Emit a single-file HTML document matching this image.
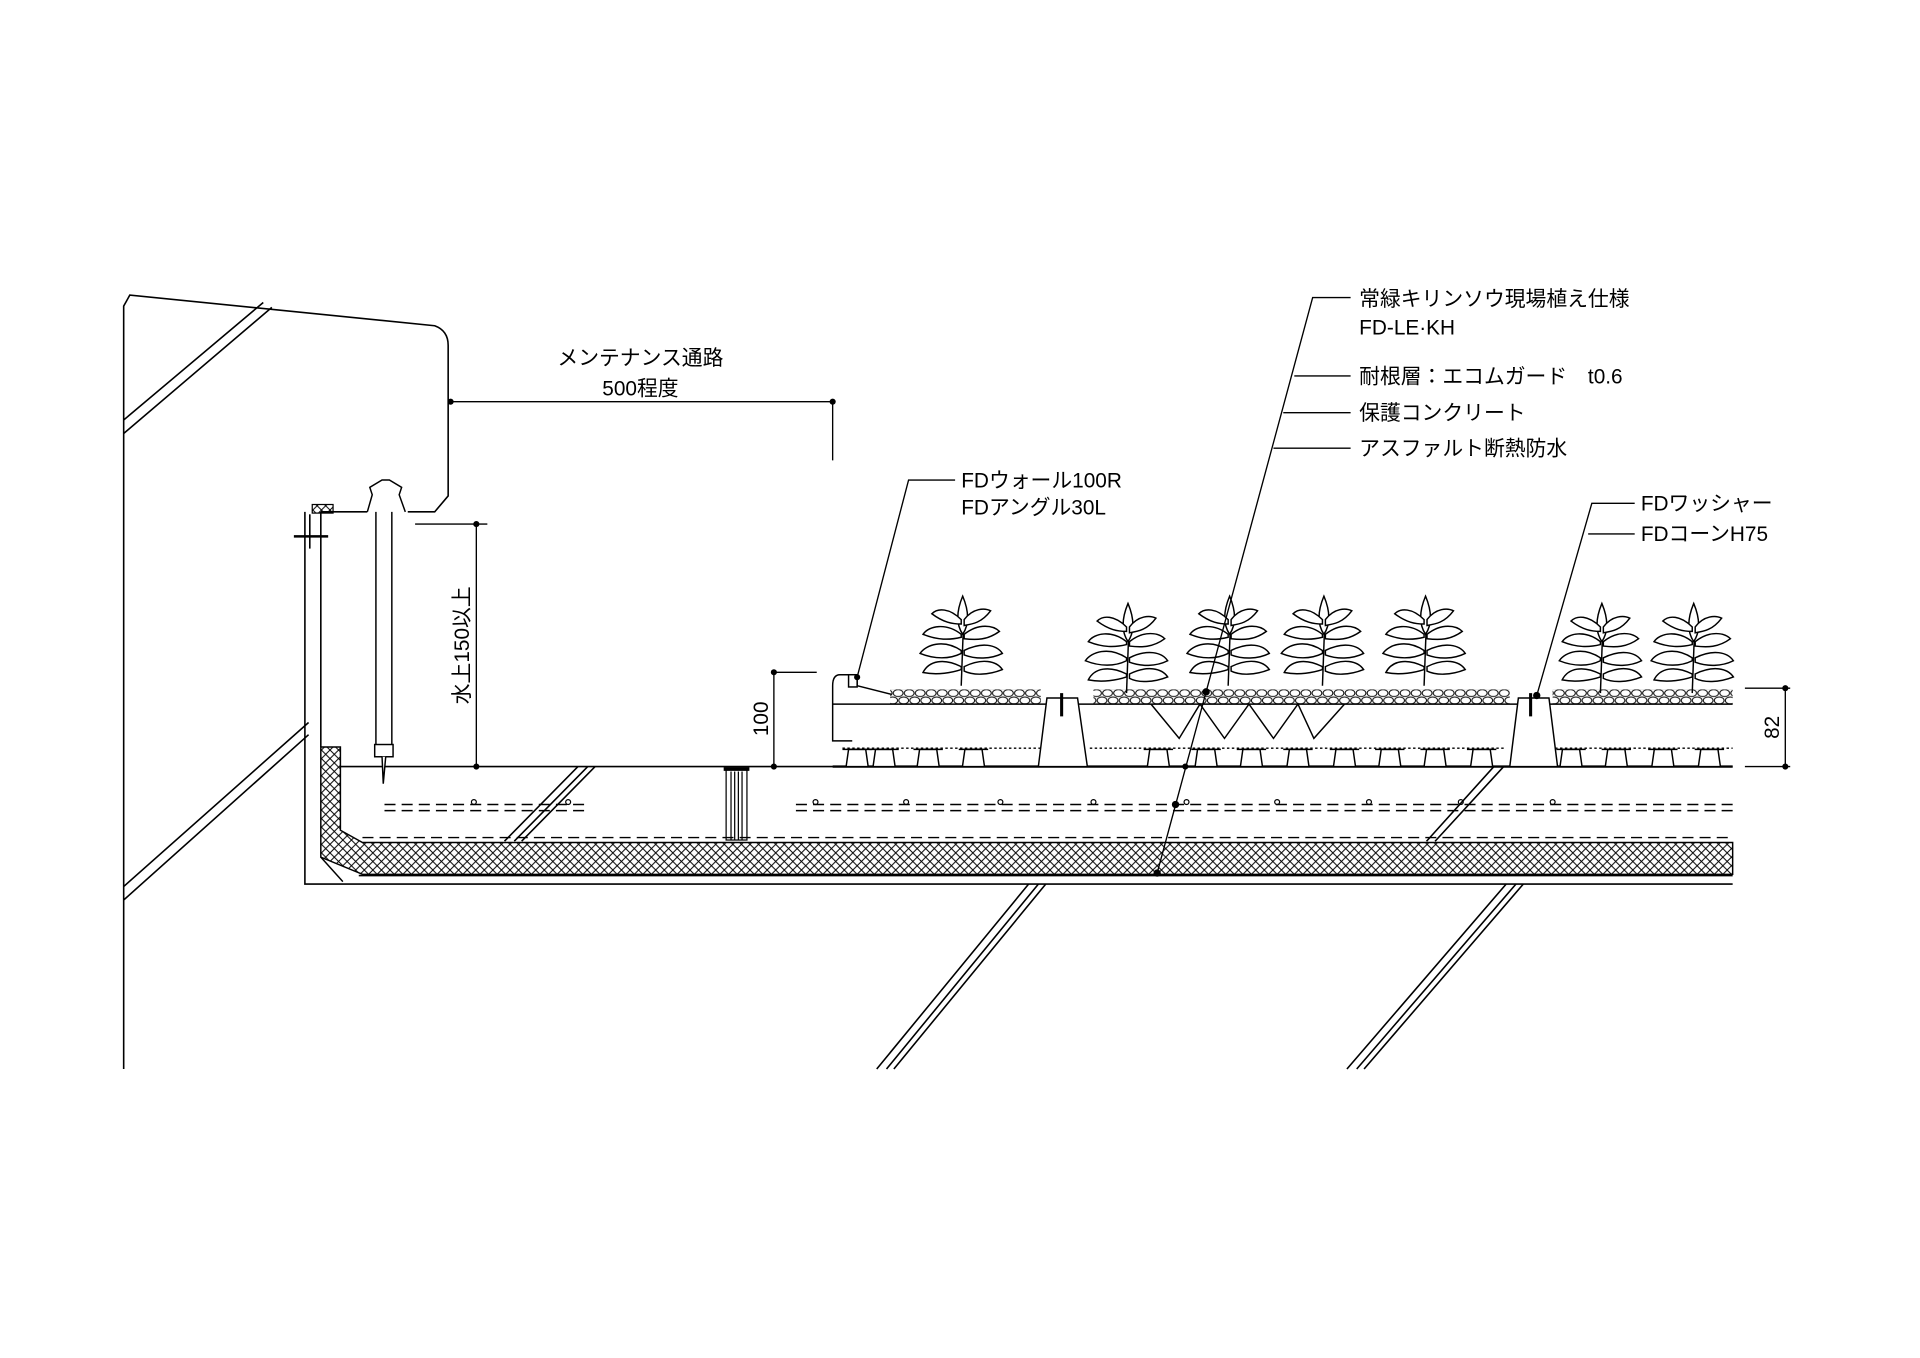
<!DOCTYPE html>
<html><head><meta charset="utf-8"><style>
html,body{margin:0;padding:0;background:#fff;}
svg{display:block}
text{font-family:"Liberation Sans","Noto Sans CJK JP",sans-serif;fill:#000;}
</style></head><body>
<svg width="1920" height="1358" viewBox="0 0 1568 1109" xmlns="http://www.w3.org/2000/svg">
<defs>
<pattern id="xh" width="7" height="7" patternUnits="userSpaceOnUse">
<path d="M0,0L7,7M7,0L0,7" stroke="#000" stroke-width="0.8"/>
</pattern>
<pattern id="gv" x="0" y="563" width="9" height="12" patternUnits="userSpaceOnUse">
<ellipse cx="4.5" cy="3" rx="4" ry="2.8" fill="#fff" stroke="#000" stroke-width="0.8"/>
<ellipse cx="0" cy="9" rx="4" ry="2.8" fill="#fff" stroke="#000" stroke-width="0.8"/>
<ellipse cx="9" cy="9" rx="4" ry="2.8" fill="#fff" stroke="#000" stroke-width="0.8"/>
</pattern>
<g id="plant" fill="#fff" stroke="#000" stroke-width="1" transform="scale(1.2)">
<path d="M0,55 L2,0" />
<path d="M1,-6 C-4,6 -3,14 1,20 C5,14 6,6 1,-6Z"/>
<path d="M0,10 C-8,2 -16,2 -20,6 C-12,12 -6,13 0,13Z"/>
<path d="M2,10 C8,2 16,2 20,4 C14,12 8,13 2,14Z"/>
<path d="M0,20 C-10,12 -22,14 -26,20 C-16,24 -8,24 0,22Z"/>
<path d="M2,20 C12,12 22,14 26,18 C18,24 10,24 2,23Z"/>
<path d="M0,31 C-12,23 -24,27 -28,33 C-18,37 -8,37 0,33Z"/>
<path d="M2,31 C14,25 24,27 28,33 C20,37 10,37 2,34Z"/>
<path d="M0,42 C-12,36 -22,38 -26,46 C-16,48 -6,46 0,44Z"/>
<path d="M2,42 C14,36 24,38 28,44 C18,48 8,48 2,45Z"/>
</g>
<g id="cone" fill="#fff" stroke="#000" stroke-width="1.2">
<path d="M-9,626 L-7,612 L7,612 L9,626Z"/>
<path d="M-12,612 L12,612" />
</g>
</defs>
<rect width="1568" height="1109" fill="#fff"/>
<g fill="none" stroke="#000" stroke-width="1.3">
<path d="M101,873 L101,250 L106,241 L355,266 Q366,270 366,282 L366,405 L355,418 L333,418"/>
<path d="M300,418 L262,418"/>
<path d="M101,343 L215,247 M101,354 L222,251 M101,724 L252,590 M101,735 L252,600"/>
<path d="M716,873 L840,722 M724,873 L848,722 M730,873 L854,722"/>
<path d="M1100,873 L1230,722 M1108,873 L1238,722 M1114,873 L1244,722"/>
<path d="M412,687 L472,626 M420,687 L480,626 M426,687 L486,626"/>
<path d="M1165,687 L1220,626 M1172,687 L1228,626"/>
<path d="M249,418 L249,722 L1415,722"/>
<path d="M262,418 L262,610"/>
<path d="M278,626 L1415,626"/>
<path d="M293,715 L1415,715"/>
<path d="M253,420 L253,448"/>
</g>
<rect x="255" y="412" width="17" height="7" fill="url(#xh)" stroke="#000"/>
<path d="M240,438 L268,438" stroke="#000" stroke-width="2"/>
<path d="M262,610 L278,610 L278,678 L296,688 L1415,688 L1415,714 L296,714 L262,700 Z" fill="url(#xh)" stroke="#000" stroke-width="1.2"/>
<path d="M262,700 L280,720" stroke="#000" stroke-width="1.2"/>
<g stroke="#000" stroke-width="1.2" fill="none" stroke-dasharray="9,5">
<path d="M314,657 L478,657 M314,662 L478,662"/>
<path d="M650,657 L1415,657 M650,662 L1415,662"/>
<path d="M296,684 L1415,684"/>
</g>
<g fill="none" stroke="#000" stroke-width="1">
<circle cx="387" cy="655" r="2"/><circle cx="464" cy="655" r="2"/>
<circle cx="666" cy="655" r="2"/><circle cx="740" cy="655" r="2"/><circle cx="817" cy="655" r="2"/>
<circle cx="893" cy="655" r="2"/><circle cx="969" cy="655" r="2"/><circle cx="1043" cy="655" r="2"/>
<circle cx="1118" cy="655" r="2"/><circle cx="1193" cy="655" r="2"/><circle cx="1268" cy="655" r="2"/>
</g>
<g stroke="#000" stroke-width="1" fill="none">
<rect x="593" y="628" width="17" height="58"/>
<path d="M597,630V686M600,630V686M603,630V686M606,630V686"/>
<path d="M591,628h21" stroke-width="3"/>
</g>
<g stroke="#000" stroke-width="1.2" fill="#fff">
<rect x="307" y="405" width="13" height="210"/>
<path d="M300,418 L304,404 L302,398 L312,392 L318,392 L328,398 L326,404 L331,418"/>
<rect x="306" y="608" width="15" height="10"/>
<path d="M312,618 L313,640 L315,618"/>
</g>
<g stroke="#000" stroke-width="1.1" fill="none">
<path d="M368,328 L680,328 L680,376"/>
<path d="M339,428 L398,428 M389,428 L389,626"/>
<path d="M632,549 L667,549 M632,549 L632,626"/>
<path d="M1425,562 L1462,562 M1458,562 L1458,626 M1425,626 L1462,626"/>
</g>
<g fill="#000">
<circle cx="368" cy="328" r="2.5"/><circle cx="680" cy="328" r="2.5"/>
<circle cx="389" cy="428" r="2.5"/><circle cx="389" cy="626" r="2.5"/>
<circle cx="632" cy="549" r="2.5"/><circle cx="632" cy="626" r="2.5"/>
<circle cx="1458" cy="562" r="2.5"/><circle cx="1458" cy="626" r="2.5"/>
</g>
<!-- gravel -->
<rect x="727" y="563" width="123" height="12" fill="url(#gv)"/>
<rect x="893" y="563" width="340" height="12" fill="url(#gv)"/>
<rect x="1268" y="563" width="147" height="12" fill="url(#gv)"/>
<g stroke="#000" stroke-width="1.2" fill="none">
<path d="M686,551 Q680,551 680,560 L680,605 L696,605"/>
<path d="M686,551 L700,551 L700,560 L728,567"/>
<rect x="693" y="551" width="7" height="10" fill="#fff"/>
<path d="M680,575 L1415,575"/>
<path d="M680,626 L1415,626" stroke-width="2"/>
<path d="M688,611 L850,611 M890,611 L1230,611 M1270,611 L1415,611" stroke-dasharray="2,2"/>
<path d="M855,570 L880,570 L888,626 L848,626Z" fill="#fff"/>
<path d="M1240,570 L1265,570 L1272,626 L1233,626Z" fill="#fff"/>
<path d="M867,566 V585 M1250,566 V585" stroke-width="2.5"/>
<path d="M940,575 L963,603 L980,575 L1000,603 L1020,575 L1040,603 L1060,575 L1073,603 L1098,575"/>
</g>
<use href="#cone" x="700"/><use href="#cone" x="722"/><use href="#cone" x="758"/><use href="#cone" x="795"/>
<use href="#cone" x="946"/><use href="#cone" x="985"/><use href="#cone" x="1022"/><use href="#cone" x="1060"/>
<use href="#cone" x="1098"/><use href="#cone" x="1135"/><use href="#cone" x="1172"/><use href="#cone" x="1210"/>
<use href="#cone" x="1283"/><use href="#cone" x="1320"/><use href="#cone" x="1358"/><use href="#cone" x="1396"/>
<use href="#plant" x="785" y="494"/><use href="#plant" x="920" y="500"/><use href="#plant" x="1003" y="494"/>
<use href="#plant" x="1080" y="494"/><use href="#plant" x="1163" y="494"/><use href="#plant" x="1307" y="500"/>
<use href="#plant" x="1382" y="500"/>
<g stroke="#000" stroke-width="1.1" fill="none">
<path d="M1103,243 L1072,243 L945,713"/>
<path d="M1057,307 L1103,307 M1048,337 L1103,337 M1040,366 L1103,366"/>
<path d="M780,392 L742,392 L700,553"/>
<path d="M1335,411 L1300,411 L1255,568 M1297,436 L1335,436"/>
</g>
<g fill="#000">
<circle cx="985" cy="565" r="3"/><circle cx="968" cy="626" r="2.5"/><circle cx="960" cy="657" r="3"/><circle cx="945" cy="713" r="3"/>
<circle cx="700" cy="553" r="2.5"/><circle cx="1255" cy="568" r="3"/>
</g>
<g font-size="17">
<text x="523" y="298" text-anchor="middle">メンテナンス通路</text>
<text x="523" y="323" text-anchor="middle">500程度</text>
<text x="1110" y="250">常緑キリンソウ現場植え仕様</text>
<text x="1110" y="273">FD-LE·KH</text>
<text x="1110" y="313">耐根層：エコムガード　t0.6</text>
<text x="1110" y="343">保護コンクリート</text>
<text x="1110" y="372">アスファルト断熱防水</text>
<text x="785" y="398">FDウォール100R</text>
<text x="785" y="420">FDアングル30L</text>
<text x="1340" y="417">FDワッシャー</text>
<text x="1340" y="442">FDコーンH75</text>
<text transform="translate(383,527) rotate(-90)" text-anchor="middle">水上150以上</text>
<text transform="translate(627,587) rotate(-90)" text-anchor="middle">100</text>
<text transform="translate(1453,594) rotate(-90)" text-anchor="middle">82</text>
</g>
</svg>
</body></html>
